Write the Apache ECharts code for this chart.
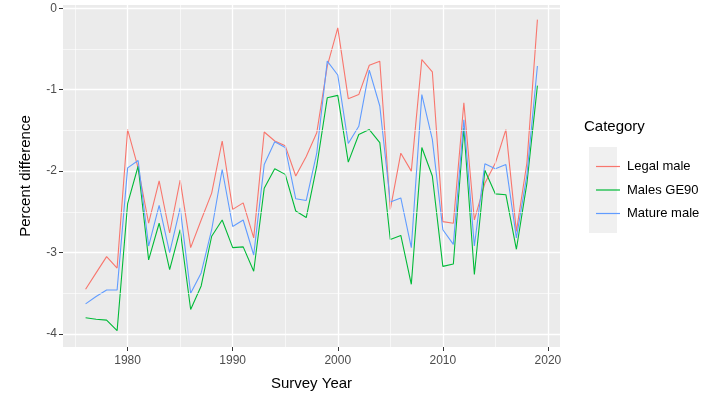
<!DOCTYPE html>
<html>
<head>
<meta charset="utf-8">
<script src="https://cdn.jsdelivr.net/npm/echarts@6/dist/echarts.min.js"></script>
<style>html,body{margin:0;padding:0;background:#fff;}#c{width:717px;height:399px;}</style>
</head>
<body>
<div id="c"></div>
<script>
var years = [1976,1977,1978,1979,1980,1981,1982,1983,1984,1985,1986,1987,1988,1989,1990,1991,1992,1993,1994,1995,1996,1997,1998,1999,2000,2001,2002,2003,2004,2005,2006,2007,2008,2009,2010,2011,2012,2013,2014,2015,2016,2017,2018,2019];
var legalMale = [-3.45,-3.25,-3.05,-3.19,-1.49,-1.96,-2.64,-2.12,-2.76,-2.11,-2.94,-2.6,-2.27,-1.63,-2.47,-2.39,-2.82,-1.52,-1.63,-1.69,-2.06,-1.82,-1.53,-0.71,-0.24,-1.11,-1.06,-0.70,-0.65,-2.47,-1.78,-2.00,-0.63,-0.78,-2.62,-2.64,-1.16,-2.60,-2.15,-1.90,-1.49,-2.74,-1.90,-0.14];
var malesGE90 = [-3.80,-3.82,-3.83,-3.96,-2.40,-1.94,-3.09,-2.64,-3.21,-2.72,-3.70,-3.41,-2.80,-2.60,-2.94,-2.93,-3.23,-2.21,-1.97,-2.04,-2.49,-2.57,-1.94,-1.10,-1.07,-1.89,-1.55,-1.49,-1.65,-2.84,-2.79,-3.39,-1.71,-2.06,-3.17,-3.14,-1.47,-3.27,-1.99,-2.28,-2.29,-2.96,-2.15,-0.95];
var matureMale = [-3.63,-3.54,-3.46,-3.46,-1.96,-1.87,-2.92,-2.42,-3.00,-2.45,-3.50,-3.25,-2.72,-1.98,-2.68,-2.60,-3.03,-1.92,-1.64,-1.71,-2.34,-2.36,-1.78,-0.65,-0.82,-1.66,-1.45,-0.76,-1.20,-2.38,-2.33,-2.94,-1.06,-1.61,-2.72,-2.90,-1.37,-2.92,-1.91,-1.97,-1.92,-2.82,-2.05,-0.71];
var seriesNames = ['Legal male','Males GE90','Mature male'];
var xMajor = [1980,1990,2000,2010,2020];
var xMinor = [1975,1985,1995,2005,2015];
var yMajor = [-4,-3,-2,-1,0];
var yMinor = [-3.5,-2.5,-1.5,-0.5];

function pairs(vals){ return years.map(function(y,i){ return [y, vals[i]]; }); }
var colors = ['#F8766D','#00BA38','#619CFF'];
var chart = echarts.init(document.getElementById('c'), null, {renderer:'canvas'});
var font = 'Liberation Sans, Arial, sans-serif';
var xMin = 1973.85, xMax = 2021.15, yMin = -4.16, yMax = 0.04;
var minorLines = xMinor.map(function(v){ return {xAxis: v}; }).concat(yMinor.map(function(v){ return {yAxis: v}; }));
var option = {
  animation: false,
  backgroundColor: '#ffffff',
  grid: {left: 63, right: 157, top: 5, bottom: 52, show: true, backgroundColor: '#EBEBEB', borderWidth: 0},
  xAxis: {type:'value', min:xMin, max:xMax, position:'bottom',
     axisLine:{show:false, onZero:false},
     axisTick:{show:true, length:4, lineStyle:{color:'#333333', width:1}, customValues: xMajor},
     axisLabel:{customValues: xMajor, color:'#4D4D4D', fontSize:12, fontFamily:font, margin:8,
                formatter: function(v){ return String(v); }},
     splitLine:{show:true, lineStyle:{color:'#ffffff', width:1.3}},
     name:'Survey Year', nameLocation:'middle', nameGap:29,
     nameTextStyle:{color:'#000', fontSize:15, fontFamily:font}},
  yAxis: {type:'value', min:yMin, max:yMax, position:'left',
     axisLine:{show:false, onZero:false},
     axisTick:{show:true, length:4, lineStyle:{color:'#333333', width:1}, customValues: yMajor},
     axisLabel:{customValues: yMajor, color:'#4D4D4D', fontSize:12, fontFamily:font, margin:6,
                formatter: function(v){ return String(v); }},
     splitLine:{show:true, lineStyle:{color:'#ffffff', width:1.3}},
     name:'Percent difference', nameLocation:'middle', nameGap:30, nameRotate:90,
     nameTextStyle:{color:'#000', fontSize:15, fontFamily:font}},
  legend: {
    orient:'vertical', left: 591, top: 155, itemWidth: 24, itemHeight: 14, itemGap: 10.5,
    icon: 'path://M0,7 L24,7 L24,8.2 L0,8.2 Z',
    data: seriesNames,
    textStyle:{color:'#000', fontSize:13, fontFamily:font, padding:[0,0,0,2]}
  },
  graphic: [
    {type:'rect', left: 589, top: 147, shape:{width:28, height:86}, style:{fill:'#F0F0F0'}, z:-1},
    {type:'text', left: 584, top: 119, style:{text:'Category', fill:'#000', font:'15px ' + font}}
  ],
  series: [
    {name:'minorGrid', type:'line', data:[], silent:true, z:1,
     markLine:{silent:true, symbol:['none','none'], label:{show:false},
       lineStyle:{color:'#ffffff', width:0.6, type:'solid'}, emphasis:{disabled:true}, data: minorLines}},
    {name:seriesNames[0], type:'line', data:pairs(legalMale), symbol:'none', z:2, lineStyle:{color:colors[0], width:1.1}, itemStyle:{color:colors[0]}},
    {name:seriesNames[1], type:'line', data:pairs(malesGE90), symbol:'none', z:2, lineStyle:{color:colors[1], width:1.1}, itemStyle:{color:colors[1]}},
    {name:seriesNames[2], type:'line', data:pairs(matureMale), symbol:'none', z:2, lineStyle:{color:colors[2], width:1.1}, itemStyle:{color:colors[2]}}
  ]
};
chart.setOption(option);
</script>
</body>
</html>
